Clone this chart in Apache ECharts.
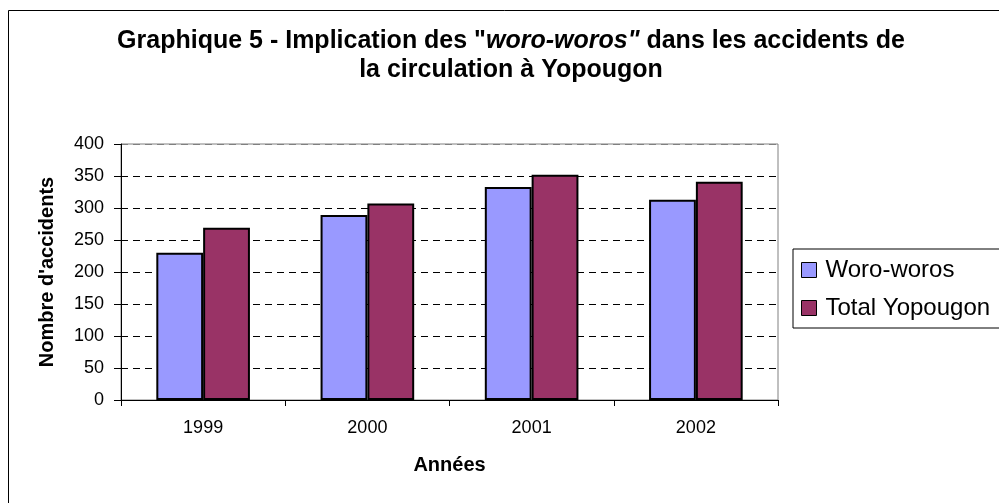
<!DOCTYPE html>
<html>
<head>
<meta charset="utf-8">
<script src="https://cdn.jsdelivr.net/npm/echarts@6/dist/echarts.min.js"></script>
<style>
  html, body { margin: 0; padding: 0; background: #fff; }
  #chart { width: 999px; height: 503px; }
</style>
</head>
<body>
<div id="chart"></div>
<script>
// données
var annees = ['1999', '2000', '2001', '2002'];
var woroWoros = [230, 289, 333, 313];
var totalYopougon = [269, 307, 352, 341];
var yTicks = [0, 50, 100, 150, 200, 250, 300, 350, 400];

var font = '"Liberation Sans", Arial, sans-serif';
var chart = echarts.init(document.getElementById('chart'));

// lignes de grille : noires pointillées, la dernière (400) grise comme le cadre
var gridColors = yTicks.map(function (v, i) { return i === yTicks.length - 1 ? '#808080' : '#000'; });

chart.setOption({
  animation: false,
  backgroundColor: '#fff',
  textStyle: { fontFamily: font },
  title: {
    text: 'Graphique 5 - Implication des "{i|woro-woros"} dans les accidents de\nla circulation à Yopougon',
    left: 511,
    top: 27,
    padding: 0,
    textAlign: 'center',
    textStyle: {
      fontFamily: font,
      fontSize: 25,
      fontWeight: 'bold',
      color: '#000',
      lineHeight: 29,
      rich: {
        i: { fontFamily: font, fontSize: 25, fontWeight: 'bold', fontStyle: 'italic', color: '#000', lineHeight: 29 }
      }
    }
  },
  graphic: [{
    type: 'rect',
    shape: { x: 8.5, y: 10.5, width: 1100, height: 600 },
    style: { fill: null, stroke: '#000', lineWidth: 1 },
    silent: true,
    z: -1
  }],
  legend: {
    orient: 'vertical',
    left: 793,
    top: 249,
    padding: [9, 30, 8, 8],
    itemGap: 14,
    itemWidth: 15,
    itemHeight: 15,
    icon: 'rect',
    borderColor: '#000',
    borderWidth: 1,
    itemStyle: { borderColor: '#000', borderWidth: 1 },
    textStyle: { fontFamily: font, fontSize: 24, lineHeight: 24, color: '#000', padding: [0, 0, 0, 4] },
    data: ['Woro-woros', 'Total Yopougon']
  },
  grid: {
    left: 121,
    right: 221,
    top: 144,
    bottom: 103,
    show: true,
    borderColor: '#808080',
    borderWidth: 1
  },
  xAxis: {
    type: 'category',
    data: annees,
    name: 'Années',
    nameLocation: 'middle',
    nameGap: 55,
    nameTextStyle: { fontFamily: font, fontSize: 20, fontWeight: 'bold', color: '#000' },
    axisLine: { lineStyle: { color: '#000', width: 1 } },
    axisTick: { show: true, length: 6, lineStyle: { color: '#000' } },
    axisLabel: { fontFamily: font, fontSize: 18, color: '#000', margin: 19 }
  },
  yAxis: {
    type: 'value',
    min: 0,
    max: 400,
    interval: 50,
    name: "Nombre d'accidents",
    nameLocation: 'middle',
    nameGap: 64,
    nameTextStyle: { fontFamily: font, fontSize: 20, fontWeight: 'bold', color: '#000' },
    axisLine: { show: true, lineStyle: { color: '#000', width: 1 } },
    axisTick: { show: true, length: 7, lineStyle: { color: '#000' } },
    axisLabel: { fontFamily: font, fontSize: 18, color: '#000', margin: 17 },
    splitLine: { show: true, lineStyle: { color: gridColors, type: [7, 5], width: 1 } }
  },
  series: [
    {
      name: 'Woro-woros',
      type: 'bar',
      data: woroWoros,
      barGap: '0%',
      barCategoryGap: '43%',
      itemStyle: { color: '#9999FF', borderColor: '#000', borderWidth: 2 }
    },
    {
      name: 'Total Yopougon',
      type: 'bar',
      data: totalYopougon,
      itemStyle: { color: '#993366', borderColor: '#000', borderWidth: 2 }
    }
  ]
});
</script>
</body>
</html>
